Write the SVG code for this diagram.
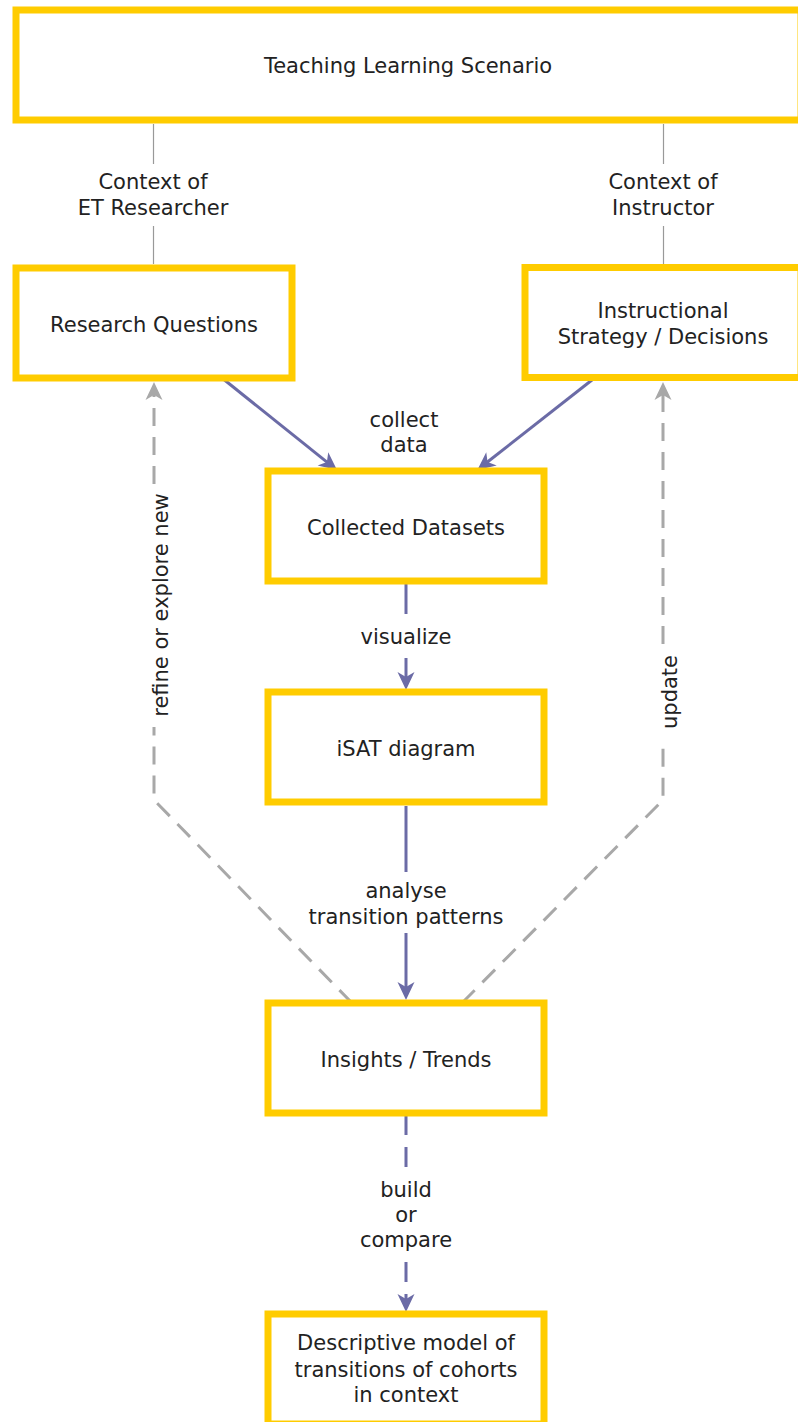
<svg xmlns="http://www.w3.org/2000/svg" width="798" height="1422" viewBox="0 0 798 1422">
<defs>
<style>
.box{fill:#ffffff;stroke:#ffcc00;stroke-width:7}
.t{font-family:"DejaVu Sans","Liberation Sans",sans-serif;font-size:21px;fill:#222222;text-anchor:middle}
.thin{stroke:#999999;stroke-width:1.2;fill:none}
.pu{stroke:#6b6ba6;stroke-width:3;fill:none}
.pud{stroke:#6b6ba6;stroke-width:3;fill:none;stroke-dasharray:20 12}
.gr{stroke:#a8a8a8;stroke-width:3;fill:none;stroke-dasharray:18 11}
</style>
<marker id="ap" markerUnits="userSpaceOnUse" markerWidth="30" markerHeight="30" refX="0" refY="0" orient="auto" overflow="visible">
<path d="M10,0 L-8,-8.5 L-3,0 L-8,8.5 Z" fill="#6b6ba6"/>
</marker>
<marker id="ag" markerUnits="userSpaceOnUse" markerWidth="30" markerHeight="30" refX="0" refY="0" orient="auto" overflow="visible">
<path d="M10,0 L-8,-8.5 L-3,0 L-8,8.5 Z" fill="#a8a8a8"/>
</marker>
</defs>

<g id="connectors">
<line class="thin" x1="153.5" y1="124" x2="153.5" y2="164"/>
<line class="thin" x1="153.5" y1="226" x2="153.5" y2="264"/>
<line class="thin" x1="663.5" y1="124" x2="663.5" y2="164"/>
<line class="thin" x1="663.5" y1="226" x2="663.5" y2="264"/>
<text class="t" x="153" y="189">Context of</text>
<text class="t" x="153" y="215">ET Researcher</text>
<text class="t" x="663" y="189">Context of</text>
<text class="t" x="663" y="215">Instructor</text>

<path class="pu" d="M222,378 L329.2,463.8" marker-end="url(#ap)"/>
<path class="pu" d="M594.5,378 L485.2,463.8" marker-end="url(#ap)"/>
<text class="t" x="404" y="427">collect</text>
<text class="t" x="404" y="452">data</text>

<path class="pu" d="M406,583 L406,614"/>
<path class="pu" d="M406,658 L406,680" marker-end="url(#ap)"/>
<text class="t" x="406" y="644">visualize</text>

<path class="pu" d="M406,806 L406,872"/>
<path class="pu" d="M406,933 L406,990" marker-end="url(#ap)"/>
<text class="t" x="406" y="898">analyse</text>
<text class="t" x="406" y="924">transition patterns</text>

<path class="pud" d="M406,1115 L406,1167"/>
<path class="pud" d="M406,1262 L406,1302" marker-end="url(#ap)"/>
<text class="t" x="406" y="1197">build</text>
<text class="t" x="406" y="1222">or</text>
<text class="t" x="406" y="1247">compare</text>

<path class="gr" d="M352,1003 L154,800 L154,727"/>
<path class="gr" d="M154,484 L154,392" marker-end="url(#ag)"/>
<text class="t" transform="translate(168,605) rotate(-90)">refine or explore new</text>

<path class="gr" d="M462,1003 L663,800 L663,740"/>
<path class="gr" d="M663,644 L663,392" marker-end="url(#ag)"/>
<text class="t" transform="translate(677,692) rotate(-90)">update</text>
</g>

<g id="teaching">
<rect class="box" x="16" y="10" width="785" height="110"/>
<text class="t" x="408" y="73">Teaching Learning Scenario</text>
</g>
<g id="research">
<rect class="box" x="16" y="268" width="276" height="110"/>
<text class="t" x="154" y="331.5">Research Questions</text>
</g>
<g id="instructional">
<rect class="box" x="525" y="267.5" width="276" height="110"/>
<text class="t" x="663" y="318">Instructional</text>
<text class="t" x="663" y="344">Strategy / Decisions</text>
</g>
<g id="datasets">
<rect class="box" x="268" y="471" width="276" height="110"/>
<text class="t" x="406" y="534.5">Collected Datasets</text>
</g>
<g id="isat">
<rect class="box" x="268" y="692" width="276" height="110"/>
<text class="t" x="406" y="755.5">iSAT diagram</text>
</g>
<g id="insights">
<rect class="box" x="268" y="1003" width="276" height="110"/>
<text class="t" x="406" y="1066.5">Insights / Trends</text>
</g>
<g id="descriptive">
<rect class="box" x="268" y="1314" width="276" height="110"/>
<text class="t" x="406" y="1350">Descriptive model of</text>
<text class="t" x="406" y="1376.5">transitions of cohorts</text>
<text class="t" x="406" y="1402">in context</text>
</g>
</svg>
